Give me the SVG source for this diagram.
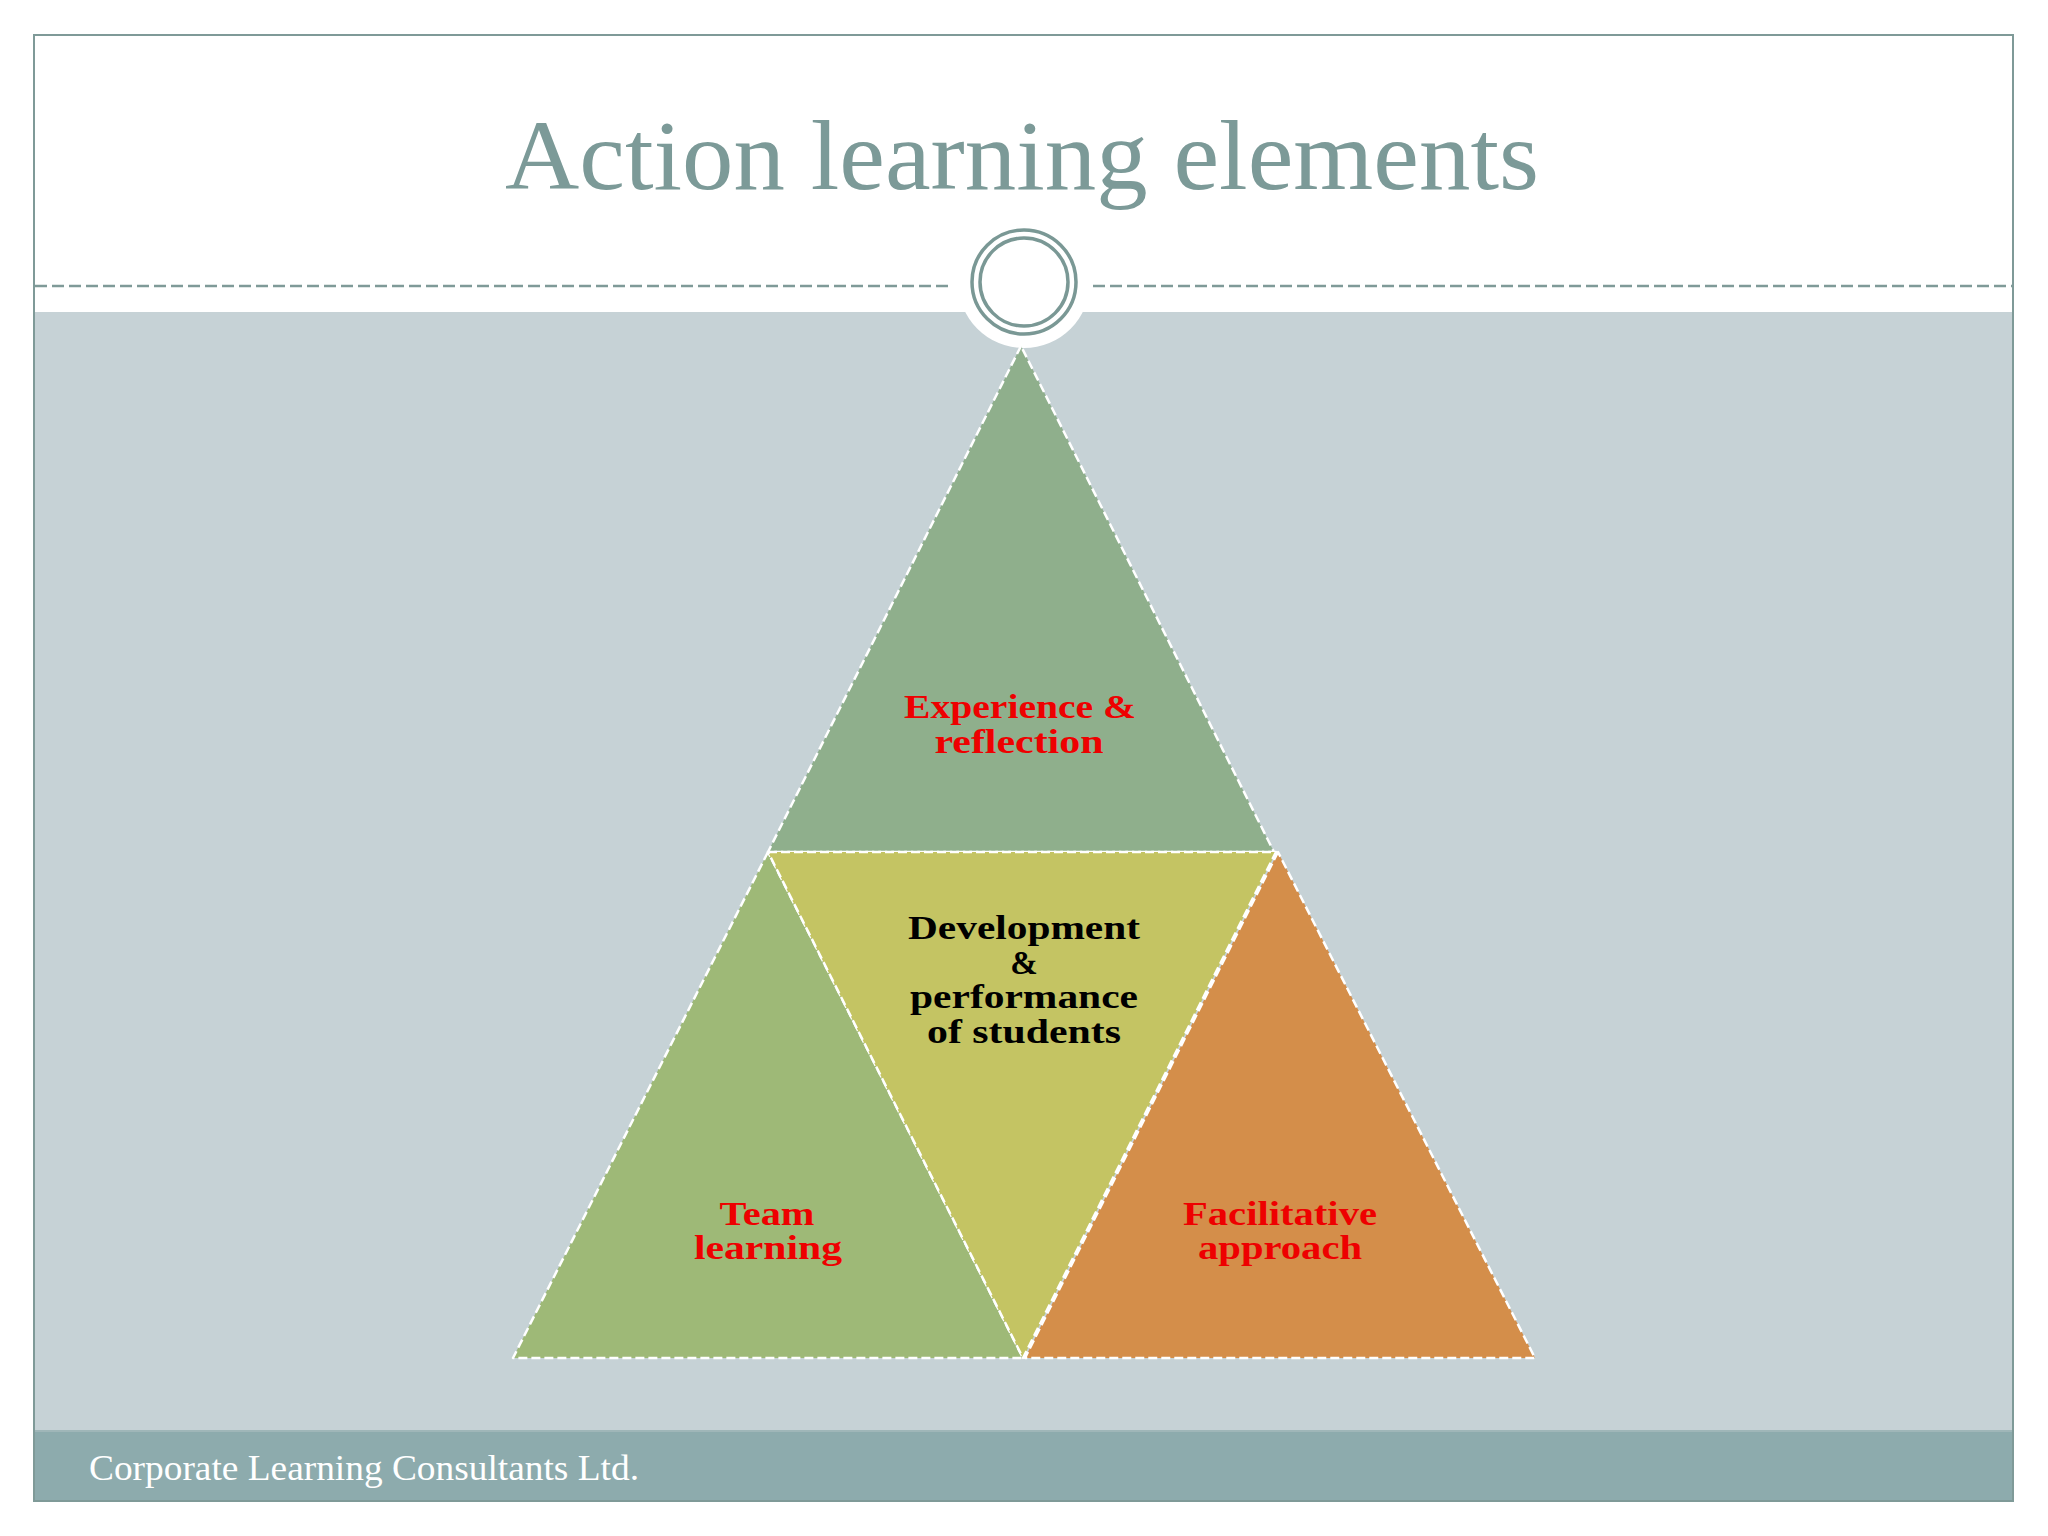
<svg xmlns="http://www.w3.org/2000/svg" width="2048" height="1536" viewBox="0 0 2048 1536">
<style>
.tri{stroke:#ffffff;stroke-width:2.5;stroke-dasharray:9 4;stroke-linejoin:round}
.lbl{font-family:"Liberation Serif","DejaVu Serif",serif;font-weight:bold;font-size:33px;text-anchor:middle}
.red{fill:#ee0000}
.blk{fill:#000000}
.dash{stroke:#7f9a98;stroke-width:2.5;stroke-dasharray:12 5}
.ring{fill:none;stroke:#7a9895;stroke-width:3.5}
</style>
<rect x="0" y="0" width="2048" height="1536" fill="#ffffff"/>
<g id="background">
<rect x="34" y="312" width="1979" height="1119" fill="#c6d2d6"/>
<rect x="34" y="1431" width="1979" height="70" fill="#8dabad"/>
<line x1="34" y1="1431" x2="2013" y2="1431" stroke="#9fb6b8" stroke-width="2"/>
<rect x="34" y="35" width="1979" height="1466" fill="none" stroke="#7f9a98" stroke-width="2"/>
<line class="dash" x1="35" y1="286" x2="953" y2="286"/>
<line class="dash" x1="1093" y1="286" x2="2012" y2="286"/>
<circle cx="1024" cy="282" r="66" fill="#ffffff"/>
<circle class="ring" cx="1024" cy="282" r="52"/>
<circle class="ring" cx="1024" cy="282" r="44"/>
</g>
<g id="title">
<text x="1022" y="189" font-family="Liberation Serif, DejaVu Serif, serif" font-size="100" fill="#7c9a98" text-anchor="middle" textLength="1034" lengthAdjust="spacingAndGlyphs">Action learning elements</text>
</g>
<g id="node-experience">
<polygon class="tri" points="1021,346 768,852 1274,852" fill="#8faf8c"/>
<text class="lbl red" x="1020" y="718" textLength="232" lengthAdjust="spacingAndGlyphs">Experience &amp;</text>
<text class="lbl red" x="1019" y="753" textLength="169" lengthAdjust="spacingAndGlyphs">reflection</text>
</g>
<g id="node-team">
<polygon class="tri" points="768,852 513,1358 1023,1358" fill="#9eb977"/>
<text class="lbl red" x="767" y="1225" textLength="95" lengthAdjust="spacingAndGlyphs">Team</text>
<text class="lbl red" x="768" y="1259" textLength="148" lengthAdjust="spacingAndGlyphs">learning</text>
</g>
<g id="node-facilitative">
<polygon class="tri" points="1278,852 1025,1358 1535,1358" fill="#d48e4a"/>
<text class="lbl red" x="1280" y="1225" textLength="194" lengthAdjust="spacingAndGlyphs">Facilitative</text>
<text class="lbl red" x="1280" y="1259" textLength="164" lengthAdjust="spacingAndGlyphs">approach</text>
</g>
<g id="node-development">
<polygon class="tri" points="768,852 1276,852 1023,1358" fill="#c4c463"/>
<text class="lbl blk" x="1024" y="939" textLength="232" lengthAdjust="spacingAndGlyphs">Development</text>
<text class="lbl blk" x="1024" y="974">&amp;</text>
<text class="lbl blk" x="1024" y="1008" textLength="228" lengthAdjust="spacingAndGlyphs">performance</text>
<text class="lbl blk" x="1024" y="1043" textLength="194" lengthAdjust="spacingAndGlyphs">of students</text>
</g>
<g id="connectors"></g>
<g id="footer">
<text x="89" y="1480" font-family="Liberation Serif, DejaVu Serif, serif" font-size="35" fill="#ffffff" textLength="550" lengthAdjust="spacingAndGlyphs">Corporate Learning Consultants Ltd.</text>
</g>
</svg>
